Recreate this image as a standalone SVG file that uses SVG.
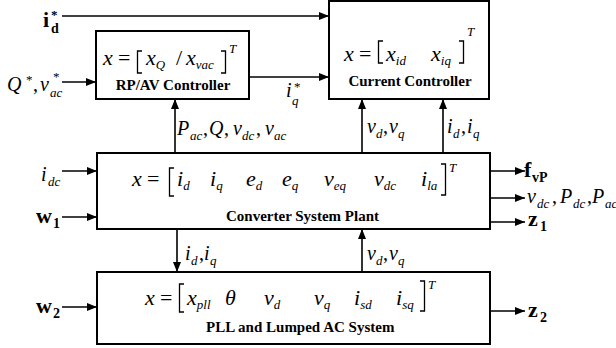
<svg xmlns="http://www.w3.org/2000/svg" width="616" height="348" viewBox="0 0 616 348">
<style>
.box{fill:#fff;stroke:#000;stroke-width:2}
.ln{fill:none;stroke:#000;stroke-width:1.6}
.br{fill:none;stroke:#000;stroke-width:1.3}
text{font-family:'Liberation Serif','Times New Roman','DejaVu Serif',serif;fill:#000}
.m{font-style:italic;font-size:22px}
.o{font-style:italic;font-size:20px}
.s{font-size:13px}
.u{font-style:normal}
.t{font-style:italic;font-size:13px}
.lb{font-weight:bold;font-size:15px}
.bo{font-weight:bold;font-size:22px}
.bs{font-size:14px}
.st{font-style:normal;font-size:13px}
</style>
<defs>
<marker id="ar" viewBox="0 0 10 8" refX="10" refY="4" markerWidth="10" markerHeight="8" markerUnits="userSpaceOnUse" orient="auto">
<path d="M0,0 L10,4 L0,8 z" fill="#000"/>
</marker>
</defs>

<g id="connectors">
<line class="ln" x1="62" y1="16" x2="329" y2="16" marker-end="url(#ar)"/>
<line class="ln" x1="62" y1="82" x2="96" y2="82" marker-end="url(#ar)"/>
<line class="ln" x1="249" y1="77" x2="329" y2="77" marker-end="url(#ar)"/>
<line class="ln" x1="175" y1="153" x2="175" y2="99" marker-end="url(#ar)"/>
<line class="ln" x1="362" y1="153" x2="362" y2="99" marker-end="url(#ar)"/>
<line class="ln" x1="443" y1="153" x2="443" y2="99" marker-end="url(#ar)"/>
<line class="ln" x1="62" y1="171" x2="97" y2="171" marker-end="url(#ar)"/>
<line class="ln" x1="62" y1="217" x2="97" y2="217" marker-end="url(#ar)"/>
<line class="ln" x1="490" y1="171" x2="525" y2="171" marker-end="url(#ar)"/>
<line class="ln" x1="490" y1="198" x2="525" y2="198" marker-end="url(#ar)"/>
<line class="ln" x1="490" y1="222" x2="525" y2="222" marker-end="url(#ar)"/>
<line class="ln" x1="177" y1="229" x2="177" y2="272" marker-end="url(#ar)"/>
<line class="ln" x1="362" y1="272" x2="362" y2="229" marker-end="url(#ar)"/>
<line class="ln" x1="62" y1="307" x2="97" y2="307" marker-end="url(#ar)"/>
<line class="ln" x1="490" y1="311" x2="525" y2="311" marker-end="url(#ar)"/>
</g>

<g id="rpav">
<rect class="box" x="96" y="31" width="153" height="68"/>
<text class="m" x="103" y="65">x</text>
<text class="m u" x="118" y="65">=</text>
<path class="br" d="M142,51 H137.5 V73 H142"/>
<text class="m" x="146" y="65">x<tspan class="s" dy="4">Q</tspan></text>
<text class="m u" x="176" y="65">/</text>
<text class="m" x="186" y="65">x<tspan class="s" dy="4">vac</tspan></text>
<path class="br" d="M221,51 H225.5 V73 H221"/>
<text class="t" x="229" y="53">T</text>
<text class="lb" x="173" y="90" text-anchor="middle">RP/AV Controller</text>
</g>

<g id="current">
<rect class="box" x="329" y="1" width="160" height="98"/>
<text class="m" x="344" y="61">x</text>
<text class="m u" x="359" y="61">=</text>
<path class="br" d="M383,41 H378.5 V63 H383"/>
<text class="m" x="386" y="61">x<tspan class="s" dy="4">id</tspan></text>
<text class="m" x="431" y="61">x<tspan class="s" dy="4">iq</tspan></text>
<path class="br" d="M459,41 H463.5 V63 H459"/>
<text class="t" x="467" y="36">T</text>
<text class="lb" x="410" y="86" text-anchor="middle">Current Controller</text>
</g>

<g id="plant">
<rect class="box" x="97" y="153" width="393" height="76"/>
<text class="m" x="132" y="186">x</text>
<text class="m u" x="147" y="186">=</text>
<path class="br" d="M174,168 H169.5 V196 H174"/>
<text class="m" x="177" y="186">i<tspan class="s" dy="4">d</tspan></text>
<text class="m" x="210" y="186">i<tspan class="s" dy="4">q</tspan></text>
<text class="m" x="246" y="186">e<tspan class="s" dy="4">d</tspan></text>
<text class="m" x="282" y="186">e<tspan class="s" dy="4">q</tspan></text>
<text class="m" x="324" y="186">v<tspan class="s" dy="4">eq</tspan></text>
<text class="m" x="374" y="186">v<tspan class="s" dy="4">dc</tspan></text>
<text class="m" x="421" y="186">i<tspan class="s" dy="4">la</tspan></text>
<path class="br" d="M441,164 H445.5 V195 H441"/>
<text class="t" x="449" y="172">T</text>
<text class="lb" x="226" y="221">Converter System Plant</text>
</g>

<g id="pll">
<rect class="box" x="97" y="272" width="393" height="72"/>
<text class="m" x="145" y="305">x</text>
<text class="m u" x="160" y="305">=</text>
<path class="br" d="M184,284 H179.5 V312 H184"/>
<text class="m" x="187" y="305">x<tspan class="s" dy="4">pll</tspan></text>
<text class="m" x="225" y="305">θ</text>
<text class="m" x="264" y="305">v<tspan class="s" dy="4">d</tspan></text>
<text class="m" x="314" y="305">v<tspan class="s" dy="4">q</tspan></text>
<text class="m" x="354" y="305">i<tspan class="s" dy="4">sd</tspan></text>
<text class="m" x="396" y="305">i<tspan class="s" dy="4">sq</tspan></text>
<path class="br" d="M420,281 H424.5 V311 H420"/>
<text class="t" x="428" y="289">T</text>
<text class="lb" x="206" y="332">PLL and Lumped AC System</text>
</g>

<g id="labels">
<text class="bo" x="43" y="27">i<tspan class="bs" x="51" y="33">d</tspan><tspan class="st" x="51" y="19">*</tspan></text>
<text class="o" x="7" y="91">Q<tspan class="st" x="26" y="84">*</tspan><tspan class="u" x="33" y="91">,</tspan><tspan x="40" y="91">v</tspan><tspan class="s" x="50" y="97">ac</tspan><tspan class="st" x="53" y="81">*</tspan></text>
<text class="o" x="286" y="97">i<tspan class="s" x="292" y="105">q</tspan><tspan class="st" x="294" y="91">*</tspan></text>
<text class="o" x="177" y="135">P<tspan class="s" x="190" y="140">ac</tspan><tspan class="u" x="203" y="135">,</tspan><tspan x="209" y="135">Q</tspan><tspan class="u" x="224" y="135">,</tspan><tspan x="233" y="135">v</tspan><tspan class="s" x="242" y="140">dc</tspan><tspan class="u" x="256" y="135">,</tspan><tspan x="265" y="135">v</tspan><tspan class="s" x="274" y="140">ac</tspan></text>
<text class="o" x="367" y="133">v<tspan class="s" x="376" y="138">d</tspan><tspan class="u" x="383" y="133">,</tspan><tspan x="389" y="133">v</tspan><tspan class="s" x="398" y="138">q</tspan></text>
<text class="o" x="447" y="133">i<tspan class="s" x="453" y="138">d</tspan><tspan class="u" x="461" y="133">,</tspan><tspan x="467" y="133">i</tspan><tspan class="s" x="473" y="138">q</tspan></text>
<text class="o" x="41" y="181">i<tspan class="s" x="48" y="186">dc</tspan></text>
<text class="bo" x="36" y="223">w<tspan class="bs" x="53" y="228">1</tspan></text>
<text class="bo" x="524" y="177">f<tspan class="bs" x="532" y="182">vP</tspan></text>
<text class="o" x="527" y="203">v<tspan class="s" x="537" y="208">dc</tspan><tspan class="u" x="552" y="203">,</tspan><tspan x="560" y="203">P</tspan><tspan class="s" x="573" y="208">dc</tspan><tspan class="u" x="587" y="203">,</tspan><tspan x="592" y="203">P</tspan><tspan class="s" x="605" y="208">ac</tspan></text>
<text class="bo" x="528" y="226">z<tspan class="bs" x="540" y="231">1</tspan></text>
<text class="o" x="185" y="260">i<tspan class="s" x="191" y="265">d</tspan><tspan class="u" x="199" y="260">,</tspan><tspan x="204" y="260">i</tspan><tspan class="s" x="210" y="265">q</tspan></text>
<text class="o" x="367" y="260">v<tspan class="s" x="376" y="265">d</tspan><tspan class="u" x="383" y="260">,</tspan><tspan x="389" y="260">v</tspan><tspan class="s" x="398" y="265">q</tspan></text>
<text class="bo" x="36" y="313">w<tspan class="bs" x="53" y="318">2</tspan></text>
<text class="bo" x="528" y="317">z<tspan class="bs" x="540" y="322">2</tspan></text>
</g>
</svg>
